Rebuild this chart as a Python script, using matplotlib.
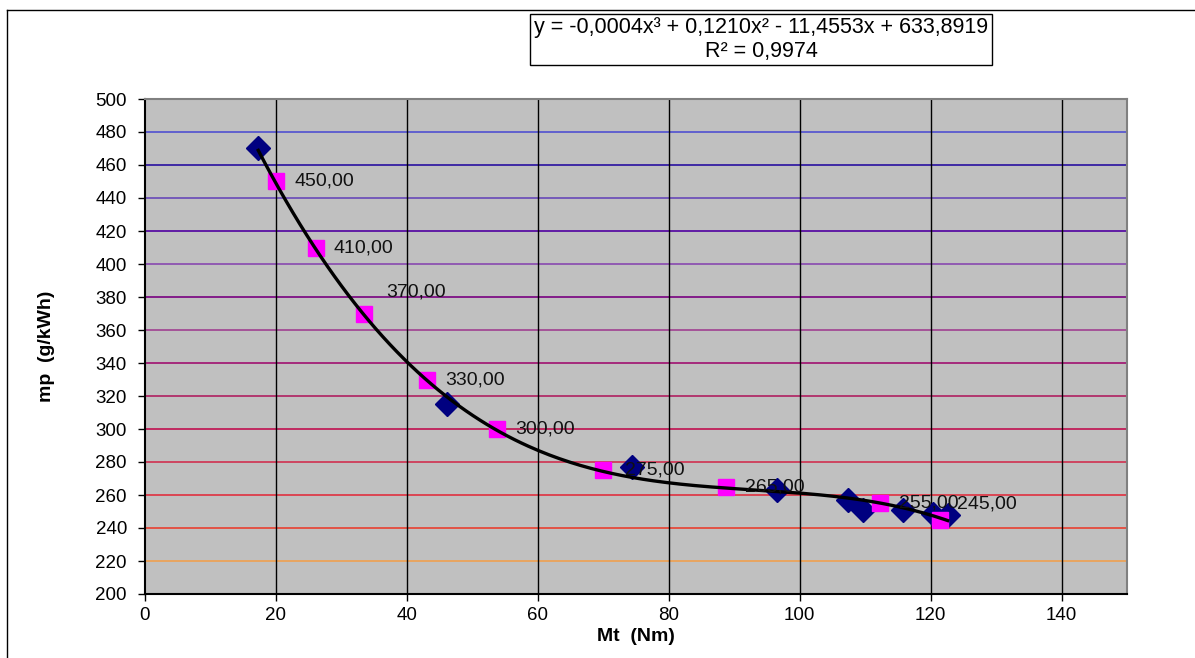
import numpy as np
import matplotlib.pyplot as plt
from matplotlib.lines import Line2D
from matplotlib.patches import Rectangle

plt.rcParams['font.family'] = ['Liberation Sans', 'DejaVu Sans']

# measured series (diamonds)
mt_meas = [17.3, 46.1, 74.4, 96.5, 107.4, 109.7, 115.8, 120.3, 122.6]
mp_meas = [470, 315, 277, 263, 257, 251, 251, 248.5, 248]

# reference series (squares, labelled)
mt_ref = [20.0, 26.1, 33.4, 43.0, 53.7, 69.9, 88.7, 112.2, 121.5]
mp_ref = [450, 410, 370, 330, 300, 275, 265, 255, 245]
lbl_off = [(19, 0), (18, 0), (23, 22), (19, 0), (19, 0), (22, 0), (19, 0), (19, 0), (17, 16)]

eq_text = "y = -0,0004x³ + 0,1210x² - 11,4553x + 633,8919"
r2_text = "R² = 0,9974"

grid_y = [220, 240, 260, 280, 300, 320, 340, 360, 380, 400, 420, 440, 460, 480]
grid_c = ['#F0A050', '#E84030', '#E03040', '#D03050', '#C01050', '#B02060', '#A01070',
          '#A04090', '#780080', '#8848B0', '#5000A0', '#6848B8', '#2810A0', '#5050D0']

fig = plt.figure(figsize=(11.95, 6.58), dpi=100)
ax = fig.add_axes([145/1195, 1-594/658, (1127-145)/1195, (594-99)/658])
ax.set_facecolor('#C0C0C0')
ax.set_xlim(0, 150)
ax.set_ylim(200, 500)
ax.set_xticks(range(0, 141, 20))
ax.set_yticks(range(200, 501, 20))

for gy, gc in zip(grid_y, grid_c):
    ax.axhline(gy, color=gc, lw=1.2, zorder=1)
for gx in range(20, 141, 20):
    ax.axvline(gx, color='black', lw=1.0, zorder=1)

# cubic trendline through the measured points
coef = np.polyfit(mt_meas, mp_meas, 3)
xs = np.linspace(min(mt_meas), max(mt_meas), 200)
ax.plot(xs, np.polyval(coef, xs), color='black', lw=2.4, zorder=4)

ax.plot(mt_meas, mp_meas, 'D', color='#000080', ms=12, mec='#000080', zorder=3)
ax.plot(mt_ref, mp_ref, 's', color='#FF00FF', ms=12, mec='#FF00FF', zorder=3)
for x, y, off in zip(mt_ref, mp_ref, lbl_off):
    ax.annotate(f"{y:.2f}".replace('.', ','), (x, y), xytext=off, textcoords='offset pixels',
                ha='left', va='center', fontsize=14, color='#111111', zorder=5)

for s in ['left', 'bottom']:
    ax.spines[s].set_color('black')
    ax.spines[s].set_linewidth(1.5)
for s in ['top', 'right']:
    ax.spines[s].set_color('#808080')
    ax.spines[s].set_linewidth(1.5)
ax.tick_params(direction='out', length=5, width=1, labelsize=13.5, color='black')
ax.tick_params(axis='y', pad=8)
ax.tick_params(axis='x', pad=4)
ax.set_xlabel('Mt  (Nm)', fontsize=14, fontweight='bold', labelpad=3)
ax.set_ylabel('mp  (g/kWh)', fontsize=14, fontweight='bold', labelpad=29)

# outer chart frame
fig.add_artist(Line2D([7/1195, 7/1195], [0, 1-10/658], color='black', lw=1))
fig.add_artist(Line2D([7/1195, 1], [1-10/658, 1-10/658], color='black', lw=1))

# trendline equation box
fig.add_artist(Rectangle((530/1195, 1-65/658), 462/1195, 51/658, transform=fig.transFigure,
                         facecolor='white', edgecolor='black', lw=1))
fig.text(761/1195, 1-27/658, eq_text, ha='center', va='center', fontsize=15.5)
fig.text(761/1195, 1-52/658, r2_text, ha='center', va='center', fontsize=15.5)

fig.savefig('out.png', dpi=100)
